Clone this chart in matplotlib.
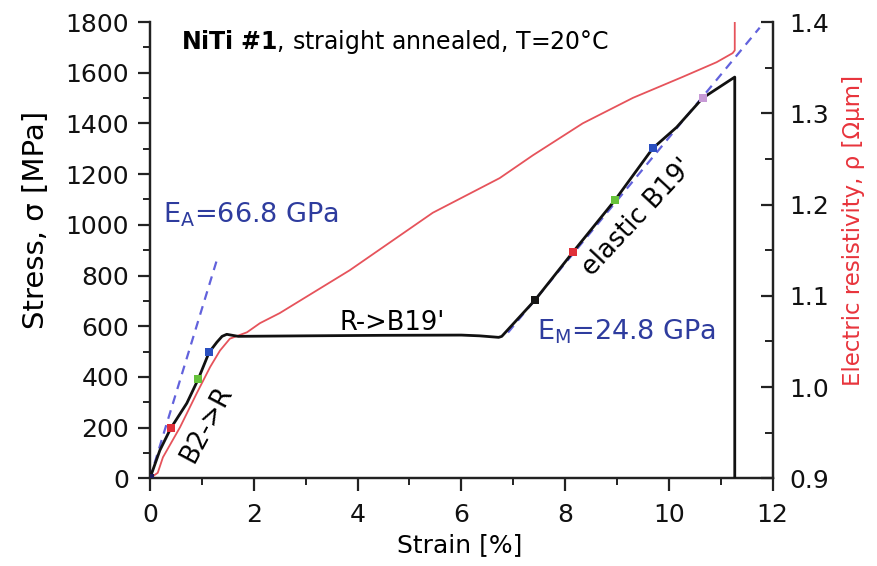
import matplotlib
matplotlib.use("Agg")
import matplotlib.pyplot as plt
from matplotlib.ticker import MultipleLocator

plt.rcParams['font.family'] = ['DejaVu Sans']
plt.rcParams['mathtext.fontset'] = 'dejavusans'

# stress-strain curve, strain in %, stress in MPa
strain = [0.0, 0.19, 0.40, 0.71, 0.93, 1.14, 1.29, 1.39, 1.48, 1.70, 3.0, 4.5,
          6.0, 6.35, 6.72, 6.78, 7.42, 8.15, 8.96, 9.69, 10.15, 10.65, 11.27, 11.27]
stress = [0, 110, 197, 296, 391, 497, 537, 560, 568, 560, 562, 564,
          565, 562, 556, 560, 703, 892, 1097, 1302, 1385, 1500, 1583, 0]

# electric resistivity in Ohm*um against strain
rho_strain = [0.0, 0.15, 0.25, 0.58, 0.90, 1.16, 1.35, 1.54, 1.87, 2.12, 2.5,
              3.85, 5.45, 6.74, 7.38, 8.34, 9.31, 10.27, 10.92, 11.23, 11.27, 11.27]
rho = [0.900, 0.906, 0.923, 0.956, 0.993, 1.022, 1.040, 1.053, 1.060, 1.070, 1.081,
       1.128, 1.191, 1.229, 1.254, 1.289, 1.317, 1.340, 1.356, 1.366, 1.369, 1.402]

# marked points along the stress curve
mark_strain = [0.0, 0.40, 0.93, 1.14, 7.42, 8.15, 8.96, 9.69, 10.65]
mark_stress = [0, 197, 391, 497, 703, 892, 1097, 1302, 1500]
mark_colors = ['#1c1c5c', '#e0303a', '#66c23a', '#2a4fc0',
               '#151515', '#e0303a', '#66c23a', '#2a4fc0', '#c79ad6']

# elastic moduli in GPa (1 GPa = 10 MPa per % strain)
E_A = 66.8
E_M = 24.8
ea_strain = [0.0, 1.28]
em_strain = [6.9, 11.75]
em_pivot = (10.65, 1505)

fig = plt.figure(figsize=(8.77, 5.66), dpi=100)
ax = fig.add_axes([0.171, 0.155, 0.710, 0.806])

ax.plot(ea_strain, [E_A * 10 * s for s in ea_strain], ls=(0, (4, 3)),
        color='#6262dc', lw=1.6, zorder=2)
ax.plot(em_strain, [em_pivot[1] + E_M * 10 * (s - em_pivot[0]) for s in em_strain],
        ls=(0, (4, 3)), color='#6262dc', lw=1.6, zorder=2)

ax2 = ax.twinx()
ax2.plot(rho_strain, rho, color='#e6535b', lw=1.3)
ax2.set_ylim(0.9, 1.4)
ax.set_zorder(ax2.get_zorder() + 1)
ax.patch.set_visible(False)

ax.plot(strain, stress, color='#111111', lw=2.0, zorder=3)
ax.scatter(mark_strain, mark_stress, c=mark_colors, marker='s', s=34, zorder=4,
           linewidths=0)

ax.set_xlim(0, 12)
ax.set_ylim(0, 1800)
ax.xaxis.set_major_locator(MultipleLocator(2))
ax.xaxis.set_minor_locator(MultipleLocator(1))
ax.yaxis.set_major_locator(MultipleLocator(200))
ax.yaxis.set_minor_locator(MultipleLocator(100))
ax2.yaxis.set_major_locator(MultipleLocator(0.1))
ax2.yaxis.set_minor_locator(MultipleLocator(0.05))
ax2.yaxis.set_major_formatter(plt.FormatStrFormatter('%.1f'))

for a in (ax, ax2):
    a.spines['top'].set_visible(False)
    for sp in a.spines.values():
        sp.set_linewidth(1.6)
        sp.set_color('#222222')

ax.tick_params(which='major', direction='out', length=9, width=1.6,
               labelsize=18, pad=6, colors='#222222', labelcolor='#111111')
ax.tick_params(axis='x', which='major', pad=9)
ax.tick_params(which='minor', direction='out', length=5, width=1.4, colors='#222222')
ax.tick_params(axis='y', right=False)
ax2.tick_params(which='major', direction='in', length=9, width=1.6,
                labelsize=18, pad=12, colors='#222222', labelcolor='#111111')
ax2.tick_params(which='minor', direction='in', length=6, width=1.4, colors='#222222')

ax.set_xlabel('Strain [%]', fontsize=18)
ax.xaxis.set_label_coords(0.498, -0.12)
ax.set_ylabel('Stress, σ [MPa]', fontsize=21)
ax.yaxis.set_label_coords(-0.16, 0.566)
ax2.set_ylabel('Electric resistivity, ρ [Ωμm]', fontsize=16.5, color='#e8343c')
ax2.yaxis.set_label_coords(1.112, 0.544)

ax.text(4.72, 1721, r'$\mathbf{NiTi\ \#1}$, straight annealed, T=20°C',
        fontsize=17, ha='center', va='center')
ax.text(0.25, 1010, r'E$_\mathregular{A}$=66.8 GPa', fontsize=19.5,
        color='#2e3c9e', ha='left', va='baseline')
ax.text(7.46, 549, r'E$_\mathregular{M}$=24.8 GPa', fontsize=19.5,
        color='#2e3c9e', ha='left', va='baseline')
ax.text(4.66, 584, "R->B19'", fontsize=18.5, ha='center', va='baseline')
ax.text(1.10, 212, 'B2->R', fontsize=18.5, ha='center', va='center', rotation=62)
ax.text(9.40, 1030, "elastic B19'", fontsize=18.5, ha='center', va='center', rotation=47)

fig.savefig('out.png', dpi=100)
